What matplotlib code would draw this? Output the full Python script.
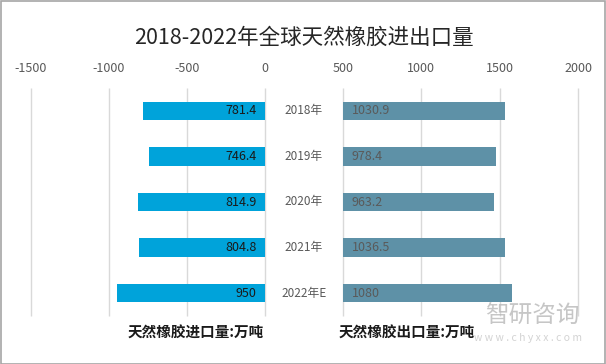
import matplotlib.pyplot as plt
from matplotlib.patches import Rectangle

plt.rcParams['font.family'] = ['Noto Sans CJK SC', 'DejaVu Sans']
plt.rcParams['axes.unicode_minus'] = False

years = ['2018年', '2019年', '2020年', '2021年', '2022年E']
imports = [781.4, 746.4, 814.9, 804.8, 950]
exports = [1030.9, 978.4, 963.2, 1036.5, 1080]
left_ticks = [-1500, -1000, -500, 0]
right_ticks = [500, 1000, 1500, 2000]

W, H = 606, 364
fig = plt.figure(figsize=(W / 100, H / 100), dpi=100)
fig.patches.append(Rectangle((0.5 / W, 0.5 / H), 1 - 1.5 / W, 1 - 1.5 / H,
                             transform=fig.transFigure, fill=False,
                             edgecolor='#A6A6A6', linewidth=1.2))

top, bottom = 88, 316
ax1 = fig.add_axes([31 / W, 1 - bottom / H, 234 / W, (bottom - top) / H])
ax2 = fig.add_axes([343 / W, 1 - bottom / H, 235 / W, (bottom - top) / H])

y = list(range(len(years)))
grid_c = '#D9D9D9'

# import side (left), bars drawn as negatives
ax1.vlines(left_ticks, -0.5, 4.5, color=grid_c, lw=1, zorder=0, clip_on=False)
ax1.barh(y, [-v for v in imports], height=0.4, color='#00A3DA', zorder=2)
ax1.set_xlim(-1500, 0)
ax1.set_xticks(left_ticks)
for i, v in enumerate(imports):
    ax1.text(-55, i, f'{v:g}', ha='right', va='center', fontsize=9,
             color='#1a1a1a', zorder=3)

# export side (right), starts from the 500 line
ax2.vlines(right_ticks, -0.5, 4.5, color=grid_c, lw=1, zorder=0, clip_on=False)
ax2.barh(y, exports, left=500, height=0.4, color='#5E91A7', zorder=2)
ax2.set_xlim(500, 2000)
ax2.set_xticks(right_ticks)
for i, v in enumerate(exports):
    ax2.text(555, i, f'{v:g}', ha='left', va='center', fontsize=9,
             color='#5a5a5a', zorder=3)

for ax in (ax1, ax2):
    ax.set_ylim(4.5, -0.5)
    ax.set_yticks([])
    ax.xaxis.tick_top()
    ax.tick_params(axis='x', length=0, pad=9, labelsize=9, labelcolor='#595959')
    for s in ax.spines.values():
        s.set_visible(False)
    ax.patch.set_alpha(0)

# category labels in the middle gap
for i, yr in enumerate(years):
    ax1.text(1.0 + (304 - 265) / 234, i, yr, transform=ax1.get_yaxis_transform(),
             ha='center', va='center', fontsize=8.5, color='#595959')

fig.text(304 / W, 1 - 38 / H, '2018-2022年全球天然橡胶进出口量', ha='center',
         va='center', fontsize=15.5, color='#262626')
fig.text(196 / W, 1 - 333 / H, '天然橡胶进口量:万吨', ha='center', va='center',
         fontsize=10.5, fontweight='bold', color='#1a1a1a')
fig.text(407 / W, 1 - 333 / H, '天然橡胶出口量:万吨', ha='center', va='center',
         fontsize=10.5, fontweight='bold', color='#1a1a1a')

# watermark
fig.text(532 / W, 1 - 316 / H, '智研咨询', ha='center', va='center',
         fontsize=17, color='#B8B8B8', alpha=0.8)
fig.text(528 / W, 1 - 338 / H, 'w w w . c h y x x . c o m', ha='center', va='center',
         fontsize=7.5, color='#C8C8C8', alpha=0.8)

fig.savefig('out.png', dpi=100)
